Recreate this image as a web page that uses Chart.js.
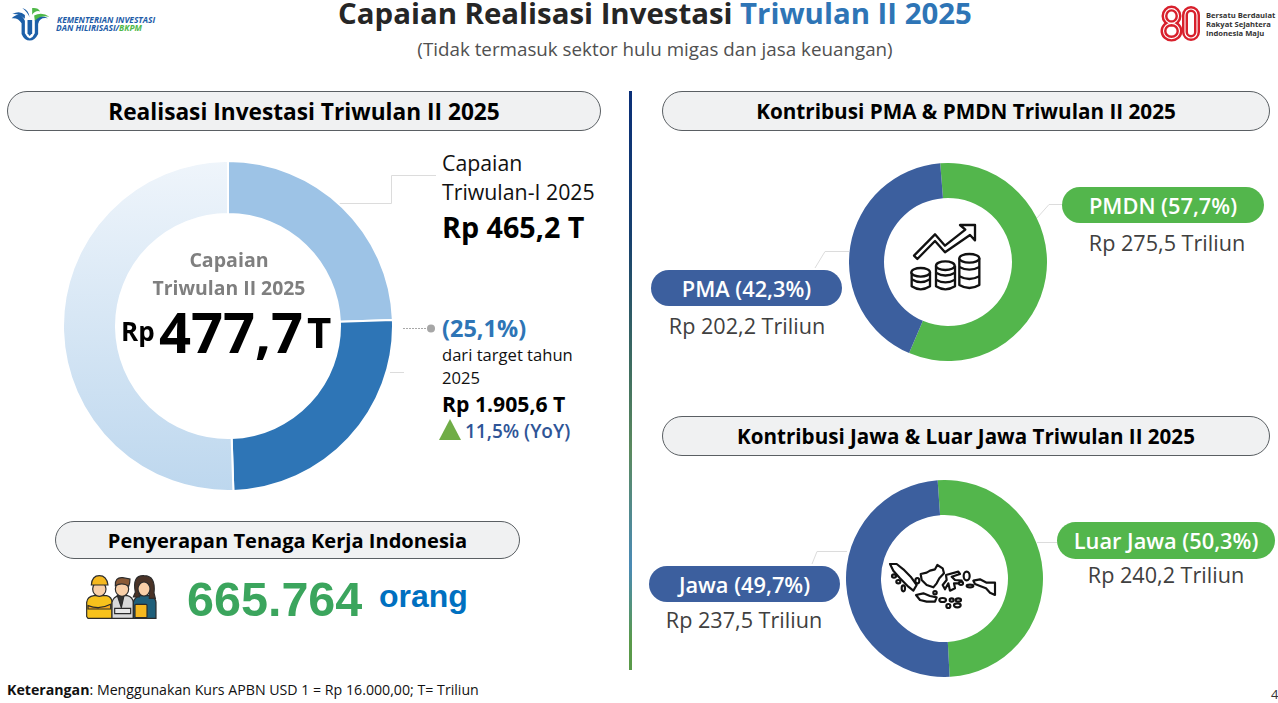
<!DOCTYPE html>
<html><head><meta charset="utf-8">
<script src="https://cdn.jsdelivr.net/npm/chart.js@4"></script>
<style>
html,body{margin:0;padding:0;background:#fff;width:1278px;height:703px;overflow:hidden}
body{position:relative;font-family:"Open Sans",sans-serif;color:#000}
.t{position:absolute;white-space:nowrap;line-height:1;transform:translateY(-50%)}
.c{transform:translate(-50%,-50%)}
.b{font-weight:700}
.pill{position:absolute;box-sizing:border-box;background:#f0f1f2;border:1.4px solid #5a5f63;display:flex;align-items:center;justify-content:center;font-weight:700;color:#000;border-radius:20px}
.lab{position:absolute;box-sizing:border-box;color:#fff;display:flex;align-items:center;justify-content:center;font-weight:600;font-size:21.8px;border-radius:19px}
canvas{position:absolute}
svg{position:absolute;overflow:visible}
.val{color:#404040;font-size:21.6px}
</style></head><body>

<!-- logo left -->
<svg style="left:5px;top:0" width="53" height="45" viewBox="0 0 160 135">
 <path d="M20 55 Q45 30 60 62 L60 100 Q66 112 75 116 Q85 112 90 100 L90 60 Q105 40 130 55 Q105 50 100 72 L100 102 Q90 122 75 122 Q58 122 50 102 L50 70 Q40 52 20 55Z" fill="#1c5fa8"/>
 <path d="M22 42 Q45 30 60 45 L60 56 Q42 40 22 42Z" fill="#1c5fa8"/>
 <path d="M68 60 L68 100 L74 108 L82 100 L82 60Z" fill="#1c5fa8"/>
 <path d="M52 24 Q72 30 74 52 Q68 36 52 24Z" fill="#1c5fa8"/>
 <path d="M82 24 Q100 22 106 34 Q92 30 82 44Z" fill="#4fb848"/>
 <path d="M88 46 Q112 34 134 50 Q108 44 90 62Z" fill="#4fb848"/>
</svg>
<div class="t" style="left:57px;top:19px;font:italic 700 8.4px 'Open Sans';color:#1d5ca8;transform:translateY(-50%)">KEMENTERIAN INVESTASI</div>
<div class="t" style="left:56px;top:27px;font:italic 700 8.4px 'Open Sans';color:#1d5ca8;transform:translateY(-50%)">DAN HILIRISASI/<span style="color:#4fb848">BKPM</span></div>

<!-- title -->
<div class="t c" style="left:655px;top:14px;font-size:29.4px;font-weight:700;color:#262626">Capaian Realisasi Investasi <span style="color:#2e75b6">Triwulan II 2025</span></div>
<div class="t c" style="left:655px;top:49px;font-size:18.8px;color:#505050">(Tidak termasuk sektor hulu migas dan jasa keuangan)</div>

<!-- logo right -->
<svg style="left:1161px;top:5px" width="40" height="37" viewBox="0 0 40 37">
 <g fill="none" stroke="#d8202c" stroke-width="6">
  <ellipse cx="10.5" cy="11" rx="7" ry="7.4"/><ellipse cx="10.5" cy="26" rx="8" ry="7.6"/>
  <rect x="24" y="4" width="12" height="29" rx="6"/>
 </g>
 <g fill="none" stroke="#fff" stroke-width="1.1">
  <ellipse cx="10.5" cy="11" rx="7" ry="7.4"/><ellipse cx="10.5" cy="26" rx="8" ry="7.6"/>
  <rect x="24" y="4" width="12" height="29" rx="6"/>
 </g>
</svg>
<div class="t" style="left:1206px;top:15px;font:700 7.6px 'Open Sans';color:#333;transform:translateY(-50%)">Bersatu Berdaulat</div>
<div class="t" style="left:1206px;top:24px;font:700 7.6px 'Open Sans';color:#333;transform:translateY(-50%)">Rakyat Sejahtera</div>
<div class="t" style="left:1206px;top:33px;font:700 7.6px 'Open Sans';color:#333;transform:translateY(-50%)">Indonesia Maju</div>

<!-- pills -->
<div class="pill" style="left:7px;top:91px;width:594px;height:40px;font-size:22.7px">Realisasi Investasi Triwulan II 2025</div>
<div class="pill" style="left:662px;top:91px;width:608px;height:40px;font-size:20.7px">Kontribusi PMA &amp; PMDN Triwulan II 2025</div>
<div class="pill" style="left:662px;top:416px;width:608px;height:40px;font-size:20.6px">Kontribusi Jawa &amp; Luar Jawa Triwulan II 2025</div>
<div class="pill" style="left:55px;top:521px;width:465px;height:38px;font-size:20.1px">Penyerapan Tenaga Kerja Indonesia</div>

<!-- divider -->
<div style="position:absolute;left:629px;top:91px;width:3px;height:579px;background:linear-gradient(#0a2f78 0%,#16406e 25%,#3f6e60 48%,#5b8a5f 62%,#4a8ab5 82%,#5a9a4a 95%)"></div>

<!-- connectors -->
<svg style="left:0;top:0" width="1278" height="703">
 <g fill="none" stroke="#dcdcdc" stroke-width="1">
  <path d="M339 203.5H391.5V175.5H436"/>
  <path d="M390 372.5H404"/>
  <path d="M1037 218L1049 204.5H1062"/>
  <path d="M815 268L825 251.5H849"/>
  <path d="M1037 542.5H1057"/>
  <path d="M812 564L817 551.5H847"/>
 </g>
 <path d="M403 328.5H427" stroke="#a8a8a8" stroke-width="1" stroke-dasharray="2 1" fill="none"/>
 <circle cx="431" cy="328.5" r="4" fill="#a6a6a6"/>
 <path d="M450 419L461 440H439Z" fill="#70ad47"/>
</svg>

<canvas id="cTotal"></canvas>
<canvas id="cPma"></canvas>
<canvas id="cJawa"></canvas>

<!-- center of main donut -->
<div class="t c" style="left:229px;top:260px;font-size:19.6px;font-weight:700;color:#7f7f7f">Capaian</div>
<div class="t c" style="left:229px;top:288px;font-size:19.4px;font-weight:700;color:#7f7f7f">Triwulan II 2025</div>
<div class="t b" style="left:121px;top:331px;font-size:26px">Rp</div>
<div class="t b" style="left:159px;top:331px;font-size:56px">477,7</div>
<div class="t b" style="left:307px;top:332px;font-size:42px">T</div>

<!-- right of main donut -->
<div class="t" style="left:442px;top:163px;font-size:21.3px;color:#111">Capaian</div>
<div class="t" style="left:442px;top:192px;font-size:21.3px;color:#111">Triwulan-I 2025</div>
<div class="t b" style="left:442px;top:227px;font-size:28.7px">Rp 465,2 T</div>
<div class="t b" style="left:442px;top:329px;font-size:23.5px;color:#2e75b6">(25,1%)</div>
<div class="t" style="left:442px;top:355px;font-size:16.6px;color:#111">dari target tahun</div>
<div class="t" style="left:442px;top:378px;font-size:16.6px;color:#111">2025</div>
<div class="t b" style="left:442px;top:404px;font-size:21.2px">Rp 1.905,6 T</div>
<div class="t" style="left:465px;top:431px;font-size:19px;font-weight:600;color:#2f5597">11,5% (YoY)</div>

<!-- workers -->
<svg style="left:80px;top:565px" width="90" height="60" viewBox="0 0 270 180">
 <g stroke="#2b2b2b" stroke-width="3.5">
  <path d="M20 155V112Q22 95 42 92H80Q96 96 96 112V160H24Z" fill="#f7c21c"/>
  <path d="M96 160V112Q100 95 118 92H142Q158 96 160 112V160Z" fill="#d9d9d9"/>
  <path d="M160 160V112Q164 96 180 92H208Q226 96 228 112V160Z" fill="#1f5f7a"/>
  <path d="M112 92L124 128L132 92Z" fill="#333"/>
  <path d="M24 122Q60 135 92 118V132H24Z" fill="#f4a91d"/>
  <path d="M104 130H152V146H104Z" fill="#e8e8e8"/>
  <rect x="165" y="118" width="36" height="40" rx="3" fill="#f5b81f"/>
  <path d="M166 82Q156 30 192 32Q228 32 222 84L226 100H208V60Q190 60 178 60V96H160Z" fill="#4a3327"/>
  <ellipse cx="58" cy="72" rx="20" ry="22" fill="#f8cfa8"/>
  <ellipse cx="126" cy="72" rx="20" ry="22" fill="#f8cfa8"/>
  <ellipse cx="192" cy="72" rx="18" ry="21" fill="#f8cfa8"/>
  <path d="M34 60Q36 32 58 32Q80 32 84 60Z" fill="#f5b81f"/>
  <path d="M106 62Q104 36 128 38L150 42Q150 54 146 64Q128 50 106 62Z" fill="#8a5a36"/>
 </g>
</svg>
<div class="t" style="left:187px;top:599px;font:700 48.5px 'Liberation Sans';color:#3ba55d;transform:translateY(-50%)">665.764</div>
<div class="t" style="left:379px;top:596px;font:700 32px 'Liberation Sans';color:#0070c0;transform:translateY(-50%)">orang</div>

<!-- right labels -->
<div class="lab" style="left:1062px;top:187px;width:202px;height:36px;background:#53b64c">PMDN (57,7%)</div>
<div class="t c val" style="left:1167px;top:243px">Rp 275,5 Triliun</div>
<div class="lab" style="left:651px;top:270px;width:191px;height:36px;background:#3c5f9e">PMA (42,3%)</div>
<div class="t c val" style="left:747px;top:326px">Rp 202,2 Triliun</div>
<div class="lab" style="left:1057px;top:522px;width:218px;height:37px;background:#53b64c">Luar Jawa (50,3%)</div>
<div class="t c val" style="left:1166px;top:575px">Rp 240,2 Triliun</div>
<div class="lab" style="left:649px;top:566px;width:191px;height:36px;background:#3c5f9e">Jawa (49,7%)</div>
<div class="t c val" style="left:744px;top:620px">Rp 237,5 Triliun</div>

<!-- coins icon -->
<svg style="left:900px;top:215px" width="90" height="80" viewBox="0 0 270 240">
 <g fill="none" stroke="#111" stroke-width="7" stroke-linejoin="round">
  <path d="M42 122L105 58L135 92L196 44L180 30H225V76L210 60L135 112L105 78L52 132Z" fill="#fff"/>
  <g fill="#fff">
   <path d="M35 172V214Q62 232 90 214V172"/><ellipse cx="62" cy="172" rx="28" ry="13"/><path d="M35 193Q62 210 90 193"/>
   <path d="M108 152V214Q136 232 165 214V152"/><ellipse cx="136" cy="152" rx="28" ry="13"/><path d="M108 173Q136 190 165 173M108 194Q136 210 165 194"/>
   <path d="M178 130V210Q208 228 238 210V130"/><ellipse cx="208" cy="130" rx="30" ry="13"/><path d="M178 156Q208 172 238 156M178 184Q208 200 238 184"/>
  </g>
 </g>
</svg>

<!-- map icon -->
<svg style="left:880px;top:550px" width="130" height="65" viewBox="0 0 390 195">
 <g fill="#fff" stroke="#111" stroke-width="6.5" stroke-linejoin="round">
  <path d="M30 42L50 42L70 58L92 80L110 105L100 122L85 110L60 85L40 62Z"/>
  <path d="M122 72L140 68L150 62L165 58L172 45L188 55L192 70L178 85L170 100L160 112L140 105L125 90Z"/>
  <path d="M198 75L235 65L240 72L215 80L225 90L245 92L240 100L222 100L225 115L210 122L205 100L195 118L188 105L200 90Z"/>
  <path d="M280 92L300 88L320 98L345 98L345 135L330 128L318 115L300 108L285 102Z"/>
  <path d="M108 135L130 130L150 138L170 142L165 155L140 155L120 150Z"/>
  <ellipse cx="42" cy="78" rx="6" ry="5"/><ellipse cx="55" cy="95" rx="6" ry="5"/><ellipse cx="70" cy="115" rx="5" ry="9"/>
  <ellipse cx="112" cy="92" rx="6" ry="8"/><ellipse cx="165" cy="128" rx="5" ry="5"/><ellipse cx="188" cy="150" rx="10" ry="6"/>
  <ellipse cx="215" cy="150" rx="6" ry="5"/><ellipse cx="235" cy="150" rx="8" ry="5"/><ellipse cx="205" cy="168" rx="6" ry="6"/>
  <ellipse cx="232" cy="166" rx="10" ry="6"/><ellipse cx="260" cy="78" rx="9" ry="13"/><ellipse cx="243" cy="100" rx="6" ry="5"/>
  <ellipse cx="270" cy="108" rx="10" ry="4"/>
 </g>
</svg>

<div class="t" style="left:7px;top:690px;font-size:14.18px;color:#111"><span class="b">Keterangan</span>: Menggunakan Kurs APBN USD 1 = Rp 16.000,00; T= Triliun</div>
<div class="t" style="left:1271px;top:694px;font-size:13px;color:#333">4</div>

<script>
// Realisasi vs target (Rp triliun)
const totalLabels = ["Capaian Triwulan-I 2025", "Capaian Triwulan II 2025", "Sisa target 2025"];
const totalValues = [465.2, 477.7, 962.7];
// PMDN / PMA (Rp triliun)
const pmaLabels = ["PMDN", "PMA"];
const pmaValues = [275.5, 202.2];
// Luar Jawa / Jawa (Rp triliun)
const jawaLabels = ["Luar Jawa", "Jawa"];
const jawaValues = [240.2, 237.5];

const BLUE = "#3c5f9e", GREEN = "#53b64c";

function donut(id, cx, cy, r, inner, labels, values, colors, rotation, bw) {
  const el = document.getElementById(id);
  const size = 2 * r + bw;
  el.width = size; el.height = size;
  el.style.width = size + "px"; el.style.height = size + "px";
  el.style.left = (cx - size / 2) + "px"; el.style.top = (cy - size / 2) + "px";
  return new Chart(el, {
    type: "doughnut",
    data: { labels, datasets: [{ data: values, backgroundColor: colors, borderColor: "#fff", borderWidth: bw }] },
    options: {
      responsive: false, animation: false, devicePixelRatio: 1,
      cutout: inner, rotation,
      layout: { padding: 0 },
      plugins: { legend: { display: false }, tooltip: { enabled: false } }
    }
  });
}

const totalColors = c => {
  if (c.dataIndex === 0) return "#9dc3e6";
  if (c.dataIndex === 1) return "#2e75b6";
  const g = c.chart.ctx.createLinearGradient(0, c.chart.height, 0, 0);
  g.addColorStop(0, "#bdd7ee");
  g.addColorStop(1, "#eff5fb");
  return g;
};
donut("cTotal", 228, 326, 165, 112, totalLabels, totalValues, totalColors, 0, 2);
donut("cPma", 948, 262, 99, 64, pmaLabels, pmaValues, [GREEN, BLUE], -4.5, 0);
donut("cJawa", 944.5, 578.5, 98.5, 63.5, jawaLabels, jawaValues, [GREEN, BLUE], -4, 0);
</script>
</body></html>
